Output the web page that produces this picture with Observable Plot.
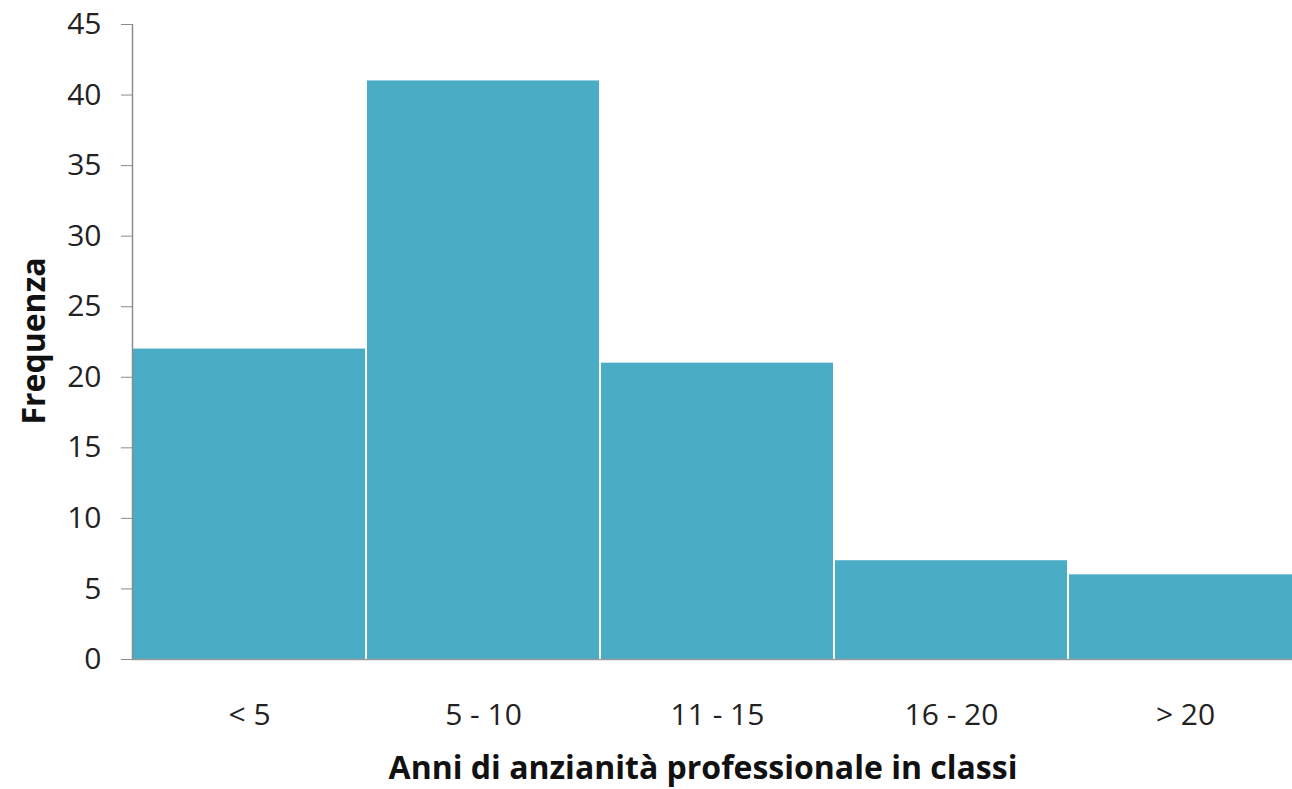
<!DOCTYPE html>
<html><head><meta charset="utf-8">
<script src="https://cdn.jsdelivr.net/npm/d3@7"></script>
<script src="https://cdn.jsdelivr.net/npm/@observablehq/plot@0.6"></script>
<style>
html,body{margin:0;padding:0;background:#fff;}
#chart{width:1292px;height:789px;overflow:hidden;}
</style>
</head><body><div id="chart"></div>
<script>
const categories = ["< 5", "5 - 10", "11 - 15", "16 - 20", "> 20"];
const values = [22, 41, 21, 7, 6];
const yTicks = [0, 5, 10, 15, 20, 25, 30, 35, 40, 45];

const data = categories.map((c, i) => ({cat: c, val: values[i]}));
const font = "'Open Sans', sans-serif";

const chart = Plot.plot({
  width: 1292,
  height: 789,
  marginLeft: 132,
  marginRight: -10,
  marginTop: 24,
  marginBottom: 130,
  style: {fontFamily: font, color: "#222", background: "#fff"},
  x: {domain: categories, padding: 0, label: null},
  y: {domain: [0, 45], label: null},
  marks: [
    Plot.barY(data, {x: "cat", y: "val", fill: "#4BACC6", insetLeft: 1, insetRight: 1}),
    Plot.ruleY([0], {stroke: "#999", strokeWidth: 1.5}),
    Plot.axisY(yTicks, {tickSize: 11, tickPadding: 20, fontSize: 30, stroke: "#8c8c8c", fill: "#222", label: null}),
    Plot.axisX({tickSize: 0, tickPadding: 44, fontSize: 30, fill: "#222", label: null}),
  ]
});
document.getElementById("chart").appendChild(chart);

// y axis line and titles
const svg = d3.select(chart);
svg.append("line").attr("x1", 132.5).attr("x2", 132.5).attr("y1", 24).attr("y2", 659)
  .attr("stroke", "#8c8c8c").attr("stroke-width", 1.5);
svg.append("text").attr("transform", "translate(45,341) rotate(-90)")
  .attr("text-anchor", "middle").attr("font-weight", "bold").attr("font-size", 32)
  .attr("font-family", font).attr("fill", "#111").text("Frequenza");
svg.append("text").attr("x", 703).attr("y", 779)
  .attr("text-anchor", "middle").attr("font-weight", "bold").attr("font-size", 32)
  .attr("font-family", font).attr("fill", "#111").text("Anni di anzianità professionale in classi");
</script>
</body></html>
